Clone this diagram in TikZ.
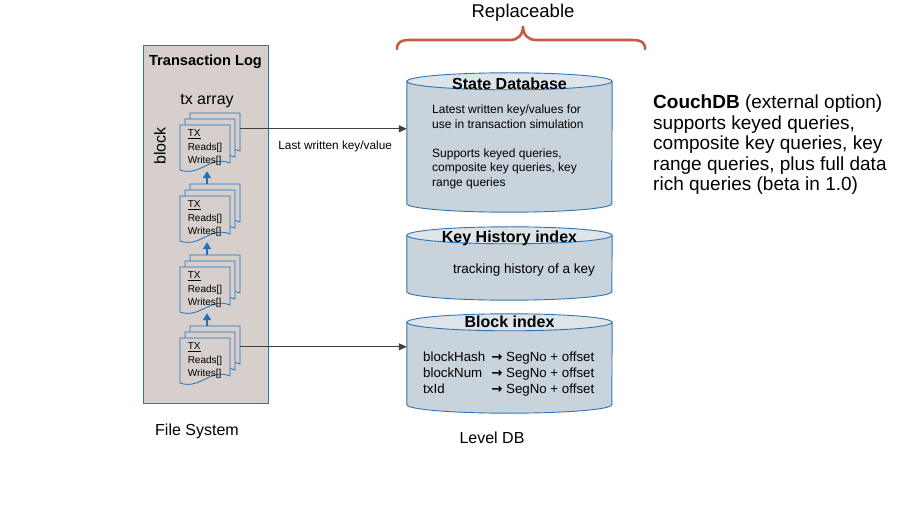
\documentclass[tikz,border=0pt]{standalone}
\usepackage{fontspec}
\setmainfont{Liberation Sans}
\newfontfamily\arrowfont{DejaVu Sans}
\usetikzlibrary{arrows.meta, calc, positioning}
\definecolor{logfill}{RGB}{214,207,203}
\definecolor{logblue}{RGB}{46,117,182}
\definecolor{pageblue}{RGB}{30,112,192}
\definecolor{dbbody}{RGB}{201,211,219}
\definecolor{dblid}{RGB}{221,228,234}
\definecolor{braceorange}{RGB}{199,92,62}
\definecolor{linkgray}{RGB}{64,64,64}
\tikzset{
logbox/.style={draw=logblue, fill=logfill, line width=1pt, minimum width=125, minimum height=358, inner sep=0},
logtitle/.style={font=\bfseries\fontsize{14.6}{17}\selectfont},
caption/.style={font=\fontsize{16}{19}\selectfont},
txpage/.style={draw=pageblue, fill=logfill, line width=0.8pt},
txtext/.style={minimum width=50, minimum height=46, inner sep=0, align=left, font=\fontsize{10}{13.5}\selectfont},
dbbox/.style={minimum width=205, inner sep=0},
dbshape/.style={draw=logblue, line width=0.9pt},
dbtitle/.style={font=\bfseries\fontsize{16}{19}\selectfont, text height=11.5pt, text depth=0pt},
dbtext/.style={inner sep=0, align=left},
link/.style={draw=linkgray, line width=1pt, -{Triangle[length=8pt,width=7pt]}},
chain/.style={draw=pageblue, line width=1.8pt, -{Triangle[length=7pt,width=8pt]}},
linklabel/.style={font=\fontsize{11.8}{14}\selectfont, inner sep=0},
bracedraw/.style={draw=braceorange, line width=2.6pt, line cap=round}
}
% one page of a tx stack, top left corner given
\newcommand{\txpage}[2]{\path[txpage] (#1,#2) -- ++(50,0) -- ++(0,38) .. controls +(-20,-8) and +(20,7) .. ++(-50,7) -- cycle;}
\newcommand{\txstack}[2]{\txpage{#1+10}{#2-12}\txpage{#1+5}{#2-6}\txpage{#1}{#2}}
% cylinder drawn into the box of a node
\newcommand{\dbcyl}[1]{%
\path[dbshape, fill=dbbody] ($(#1.north west)+(0,8.5)$) -- ($(#1.south west)+(0,-8.5)$) arc[start angle=180, end angle=0, x radius=102.5, y radius=8.5] -- ($(#1.north east)+(0,8.5)$) -- cycle;
\path[dbshape, fill=dblid] ($(#1.north)+(0,8.5)$) ellipse[x radius=102.5, y radius=8.5];}
\newcommand{\segto}{{\arrowfont\bfseries →}}

\begin{document}
\begin{tikzpicture}[x=1pt,y=-1pt]
\useasboundingbox (0,0) rectangle (915,518);
% file system
\node[logbox, anchor=north west] (txlog) at (143,45) {};
\node[logtitle] (logt) at (205.5,62) {Transaction Log};
\node[caption] (txarr) at (207,101) {tx array};
\node[caption, rotate=90] (blk) at (160,146) {block};
\txstack{180}{125}
\txstack{180}{196}
\txstack{180}{267}
\txstack{180}{338}
\node[txtext] (tx1) at (205,148) {\underline{TX}\\Reads[]\\Writes[]};
\node[txtext] (tx2) at (205,219) {\underline{TX}\\Reads[]\\Writes[]};
\node[txtext] (tx3) at (205,290) {\underline{TX}\\Reads[]\\Writes[]};
\node[txtext] (tx4) at (205,361) {\underline{TX}\\Reads[]\\Writes[]};
\node[caption] (fs) at (197,431) {File System};

% level db
\node[dbbox, minimum height=139] (sdb) at (509.5,142.5) {};
\dbcyl{sdb}
\node[dbtitle] (sdbt) at ($(sdb.north)+(0,10.5)$) {State Database};
\node[dbtext, anchor=north west, font=\fontsize{12}{14.3}\selectfont] (sdbx) at (432,105)
{Latest written key/values for\\use in transaction simulation\\[15pt]Supports keyed queries,\\composite key queries, key\\range queries};

\node[dbbox, minimum height=73] (khi) at (509.5,263.5) {};
\dbcyl{khi}
\node[dbtitle] (khit) at ($(khi.north)+(0,9.5)$) {Key History index};
\node[dbtext, font=\fontsize{13.5}{16}\selectfont] (khix) at (524,270) {tracking history of a key};

\node[dbbox, minimum height=99] (bix) at (509.5,363.5) {};
\dbcyl{bix}
\node[dbtitle] (bixt) at ($(bix.north)+(0,8)$) {Block index};
\node[dbtext, anchor=west, font=\fontsize{13.3}{16}\selectfont] (bixx) at (423,374)
{\begin{tabular}{@{}l@{\hspace{6pt}}l@{}}
blockHash & \segto\ SegNo + offset\\
blockNum & \segto\ SegNo + offset\\
txId & \segto\ SegNo + offset
\end{tabular}};
\node[caption] (ldb) at (492,438) {Level DB};

% replaceable part
\node[font=\fontsize{18.5}{22}\selectfont] (repl) at (523,12.5) {Replaceable};
\draw[bracedraw] (397,49) .. controls (397,42) and (401,40) .. (410,40) -- (510,40)
.. controls (518,40) and (523,35) .. (523,26) .. controls (523,35) and (528,40) .. (536,40)
-- (632,40) .. controls (641,40) and (645,42) .. (645,49);

\node[anchor=north west, align=left, inner sep=0, font=\fontsize{19}{20.6}\selectfont] (couch) at (653,94.5)
{\textbf{CouchDB} (external option)\\supports keyed queries,\\composite key queries, key\\range queries, plus full data\\rich queries (beta in 1.0)};

\coordinate (lw) at ([xshift=10pt,yshift=-4pt]tx1.north east);
\coordinate (bw) at ([xshift=10pt,yshift=-9pt]tx4.north east);
\draw
([xshift=2pt,yshift=12pt]tx2.north) edge[chain] ([xshift=2pt]tx1.south)
([xshift=2pt,yshift=12pt]tx3.north) edge[chain] ([xshift=2pt]tx2.south)
([xshift=2pt,yshift=12pt]tx4.north) edge[chain] ([xshift=2pt]tx3.south)
(lw) edge[link] node[linklabel, pos=0.57, below=12pt] {Last written key/value} (lw -| sdb.west)
(bw) edge[link] (bw -| bix.west)
;
\end{tikzpicture}
\end{document}
